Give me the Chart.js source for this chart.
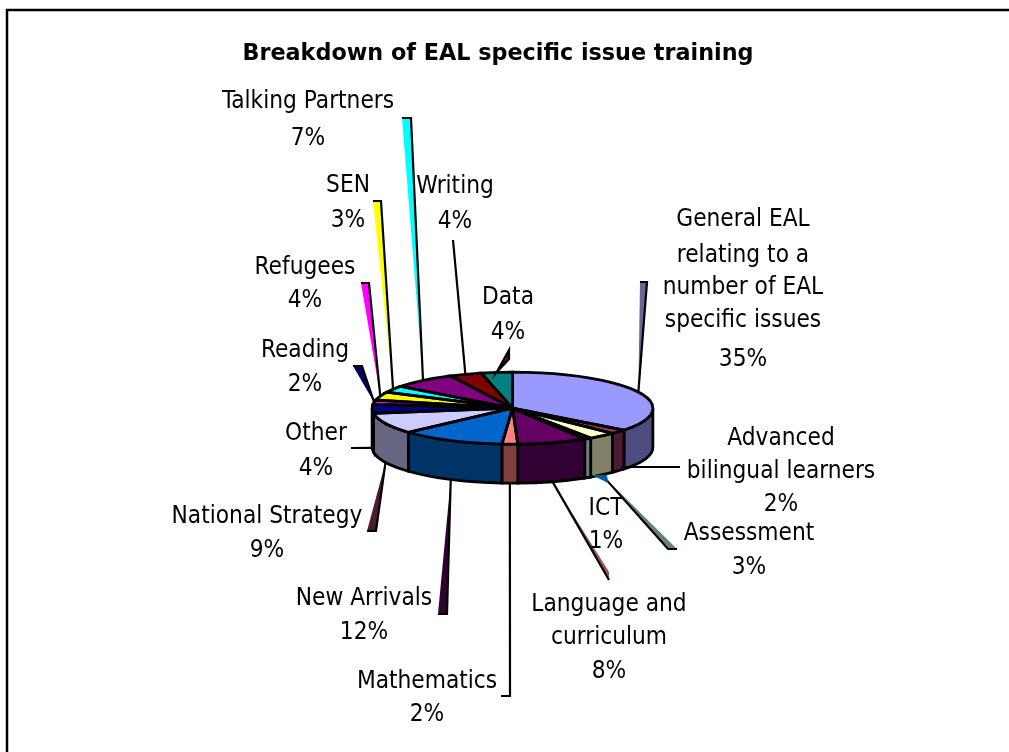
<!DOCTYPE html>
<html><head><meta charset="utf-8">
<style>html,body{margin:0;padding:0;background:#fff}canvas{display:block}</style>
<script src="https://cdn.jsdelivr.net/npm/chart.js@4"></script></head>
<body><div style="width:1009px;height:752px;position:relative"><canvas id="c" width="1009" height="752"></canvas></div>
<script>
const chartTitle = 'Breakdown of EAL specific issue training';
const categories = ['General EAL relating to a number of EAL specific issues','Advanced bilingual learners','Assessment','ICT','Language and curriculum','Mathematics','New Arrivals','National Strategy','Other','Reading','Refugees','SEN','Talking Partners','Writing','Data'];
const shares = [35.4,2.0,3.2,0.8,8.0,1.8,12.1,9.4,4.0,1.9,3.7,3.0,7.4,3.7,3.6];
const topColors = ['#9999FF','#993366','#FFFFCC','#CCFFFF','#660066','#FF8080','#0066CC','#CCCCFF','#000080','#FF00FF','#FFFF00','#00FFFF','#800080','#800000','#008080'];
const wallColors = ['#4D4D80','#4D1A33','#808066','#668080','#330033','#804040','#003366','#666680','#000040','#800080','#808000','#008080','#400040','#400000','#004040'];
const labelLines = [['General EAL','relating to a','number of EAL','specific issues'],['Advanced','bilingual learners'],['Assessment'],['ICT'],['Language and','curriculum'],['Mathematics'],['New Arrivals'],['National Strategy'],['Other'],['Reading'],['Refugees'],['SEN'],['Talking Partners'],['Writing'],['Data']];
const labelX = [743,781,749,606,609,427,364,267,316,305,305,348,308,455,508];
const labelY = [[218,254,286,319,358],[437,470,503],[532,566],[507,540],[603,636,670],[680,713],[597,631],[515,549],[432,467],[349,383],[266,299],[184,219],[100,137],[185,220],[296,331]];
const leaderEnds = [[640,647,282],[680,680,467],[668,677,549],[606,608,483],[609,609,572],[510,501,696],[438,447,614],[367,376,531],[351,351,448],[353,362,366],[361,369,283],[373,381,201],[402,411,118],[453,453,240],[509,509,350]];
const leaderColors = ['#666699','#000000','#668080','#005C99','#A05050','#000000','#330033','#4D1A33','#000000','#000060','#FF00FF','#FFFF00','#00FFFF','#000000','#800000'];
const leaderOnWall = [0,1,1,1,1,1,1,1,1,0,0,0,0,0,0];
const RY = 36, DEPTH = 39, LW = 2.8;
const FONT = '24.2px "DejaVu Sans Condensed"';

const pie3d = {
  id:'pie3d',
  afterLayout(chart){
    const t = chart.titleBlock;
    t.left = 0; t.right = 996; t.top = 41; t.bottom = 66;
  },
  beforeDraw(chart){
    const c = chart.ctx;
    c.save(); c.strokeStyle='#000'; c.lineWidth=2.5;
    c.beginPath(); c.moveTo(7,752); c.lineTo(7,10); c.lineTo(1009,10); c.stroke(); c.restore();
  },
  beforeDatasetsDraw(chart){
    const c = chart.ctx, arcs = chart.getDatasetMeta(0).data;
    arcs.forEach((a,i)=>{
      const s = Math.max(a.startAngle,0), e = Math.min(a.endAngle,Math.PI);
      if(e<=s) return;
      const r=a.outerRadius;
      c.beginPath();
      c.ellipse(a.x,a.y,r,RY,0,s,e);
      c.ellipse(a.x,a.y+DEPTH,r,RY,0,e,s,true);
      c.closePath();
      c.fillStyle=wallColors[i]; c.fill();
      c.strokeStyle='#000'; c.lineWidth=LW; c.stroke();
    });
    const a0=arcs[0];
    c.save();
    c.translate(a0.x,a0.y); c.scale(1,RY/a0.outerRadius); c.translate(-a0.x,-a0.y);
  },
  afterDatasetsDraw(chart){
    const c = chart.ctx, arcs = chart.getDatasetMeta(0).data;
    c.restore();
    arcs.forEach(a=>{
      c.beginPath(); c.moveTo(a.x,a.y);
      c.ellipse(a.x,a.y,a.outerRadius,RY,0,a.startAngle,a.endAngle);
      c.closePath(); c.strokeStyle='#000'; c.lineWidth=LW; c.stroke();
    });
    arcs.forEach((a,i)=>{
      const m=(a.startAngle+a.endAngle)/2;
      const x=a.x+a.outerRadius*Math.cos(m), y=a.y+RY*Math.sin(m)+(leaderOnWall[i]?DEPTH:0);
      const [x1,x2,ye]=leaderEnds[i];
      c.lineWidth=2.2; c.strokeStyle='#000'; c.fillStyle=leaderColors[i];
      if(i===5){
        c.beginPath(); c.moveTo(x,y); c.lineTo(x1,ye); c.lineTo(x2,ye); c.stroke(); return;
      }
      if(i===1){
        c.beginPath(); c.moveTo(x+3,ye); c.lineTo(x1,ye); c.stroke(); return;
      }
      if(i===3){
        c.beginPath(); c.moveTo(x1-14,ye-8); c.lineTo(x1+1,ye-8); c.lineTo(x2,ye); c.closePath(); c.fill(); return;
      }
      if(x1===x2 && i!==4 && i!==14){
        c.beginPath(); c.moveTo(x,y); c.lineTo(x1,ye); c.stroke(); return;
      }
      if(i===4){
        c.beginPath(); c.moveTo(x,y); c.lineTo(x1,ye+8); c.lineTo(x1,ye); c.closePath(); c.fill();
        c.beginPath(); c.moveTo(x,y); c.lineTo(x1,ye+8); c.stroke();
        return;
      }
      if(i===14){
        c.beginPath(); c.moveTo(x,y); c.lineTo(x1,ye+9); c.lineTo(x1,ye); c.closePath(); c.fill(); c.stroke();
        return;
      }
      c.beginPath(); c.moveTo(x,y); c.lineTo(x1,ye); c.lineTo(x2,ye); c.closePath(); c.fill();
      c.beginPath();
      if(i===2){ c.moveTo(x,y); c.lineTo(x1,ye); c.lineTo(x2,ye); }
      else { c.moveTo(x1,ye); c.lineTo(x2,ye); c.lineTo(x,y); }
      c.stroke();
    });
    c.font=FONT; c.fillStyle='#000'; c.textAlign='center'; c.textBaseline='middle';
    categories.forEach((n,i)=>{
      const lines=[...labelLines[i], Math.round(shares[i])+'%'];
      lines.forEach((t,j)=>c.fillText(t,labelX[i],labelY[i][j]+2));
    });
  }
};

new Chart(document.getElementById('c'),{
  type:'pie',
  data:{labels:categories,datasets:[{data:shares,backgroundColor:topColors,borderWidth:0}]},
  plugins:[pie3d],
  options:{
    responsive:false,animation:false,
    layout:{padding:{left:372,right:356,top:241,bottom:203.5}},
    plugins:{
      legend:{display:false},tooltip:{enabled:false},
      title:{display:true,text:chartTitle,color:'#000',font:{family:'"DejaVu Sans"',size:22.3,weight:'bold',lineHeight:1.2},padding:0}
    }
  }
});
</script></body></html>
